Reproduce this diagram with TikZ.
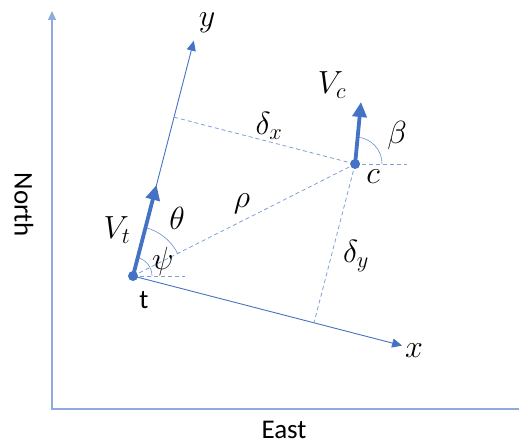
\RequirePackage{fix-cm}
\documentclass[tikz,border=0pt]{standalone}
\usepackage{fontspec}
\setmainfont{Carlito}
\usetikzlibrary{arrows.meta,calc}
\definecolor{mainblue}{HTML}{4472C4}
\definecolor{axisblue}{HTML}{8FAADC}
\definecolor{dashblue}{HTML}{7F9FD8}
\tikzset{
  axisline/.style={draw=axisblue, line width=1.1pt},
  frameline/.style={draw=mainblue, line width=0.9pt},
  dashline/.style={draw=dashblue, line width=0.8pt, dash pattern=on 4pt off 3pt},
  anglearc/.style={draw=mainblue!80, line width=0.6pt},
  vecline/.style={draw=mainblue, line width=3.8pt, -{Triangle[length=15pt,width=14pt]}},
  dotnode/.style={circle, fill=mainblue, inner sep=0pt, minimum size=10pt},
  mathlabel/.style={font=\fontsize{32}{36}\selectfont, inner sep=0pt},
  textlabel/.style={font=\fontsize{27}{32}\selectfont, inner sep=0pt},
}
\begin{document}
\begin{tikzpicture}[x=1pt,y=-1pt]
\useasboundingbox (0,0) rectangle (519,444);
% world axes
\coordinate (O) at (52,409);
\coordinate (N) at (52,11);
\coordinate (E) at (519,409);
\draw[axisline, -{Triangle[length=9pt,width=8pt]}] (E) -- (O) -- (N);
\node[textlabel, rotate=-90] (north) at (24,205) {North};
\node[textlabel] (east) at (284,430) {East};
% body frame
\coordinate (t) at (133,276);
\coordinate (ytip) at (193.8,40.7);
\coordinate (xtip) at (402.1,345.6);
\coordinate (c) at (355.1,164.0);
\coordinate (fy) at (174.1,117.2);
\coordinate (fx) at (314.0,322.8);
\coordinate (vttip) at (156.5,185);
\coordinate (vctip) at (361,102);
\coordinate (th) at (185,276);
\coordinate (ch) at (407,164);
\draw[frameline, -{Triangle[length=10pt,width=9pt]}] (t) -- (ytip);
\draw[frameline, -{Triangle[length=10pt,width=9pt]}] (t) -- (xtip);
% dashed lines
\draw[dashline] (t) -- (c);
\draw[dashline] (fy) -- (c);
\draw[dashline] (c) -- (fx);
\draw[dashline] (t) -- (th);
\draw[dashline] (c) -- (ch);
% arcs
\draw[anglearc] ($(t)+(19,0)$) arc[start angle=0, end angle=-75.5, radius=19];
\draw[anglearc] ($(t)+(-26.8:50)$) arc[start angle=-26.8, end angle=-75.5, radius=50];
\draw[anglearc] ($(c)+(27,0)$) arc[start angle=0, end angle=-84.6, radius=27];
% vectors
\draw[vecline] (t) -- (vttip);
\draw[vecline] (c) -- (vctip);
\node[dotnode] (tdot) at (t) {};
\node[dotnode] (cdot) at (c) {};
% labels
\node[mathlabel] (ylab) at (207,23) {$y$};
\node[mathlabel] (xlab) at (414,351) {$x$};
\node[mathlabel] (vtlab) at (117,230) {$V_t$};
\node[mathlabel] (thlab) at (177,218) {$\theta$};
\node[mathlabel] (psilab) at (163,261) {$\psi$};
\node[mathlabel] (rholab) at (242,204) {$\rho$};
\node[mathlabel] (dxlab) at (269,126) {$\delta_x$};
\node[mathlabel] (dylab) at (356,256) {$\delta_y$};
\node[mathlabel] (vclab) at (332,85) {$V_c$};
\node[mathlabel] (betalab) at (397,135) {$\beta$};
\node[mathlabel] (clab) at (373,177) {$c$};
\node[textlabel] (tlab) at (144,300) {t};
\end{tikzpicture}
\end{document}
